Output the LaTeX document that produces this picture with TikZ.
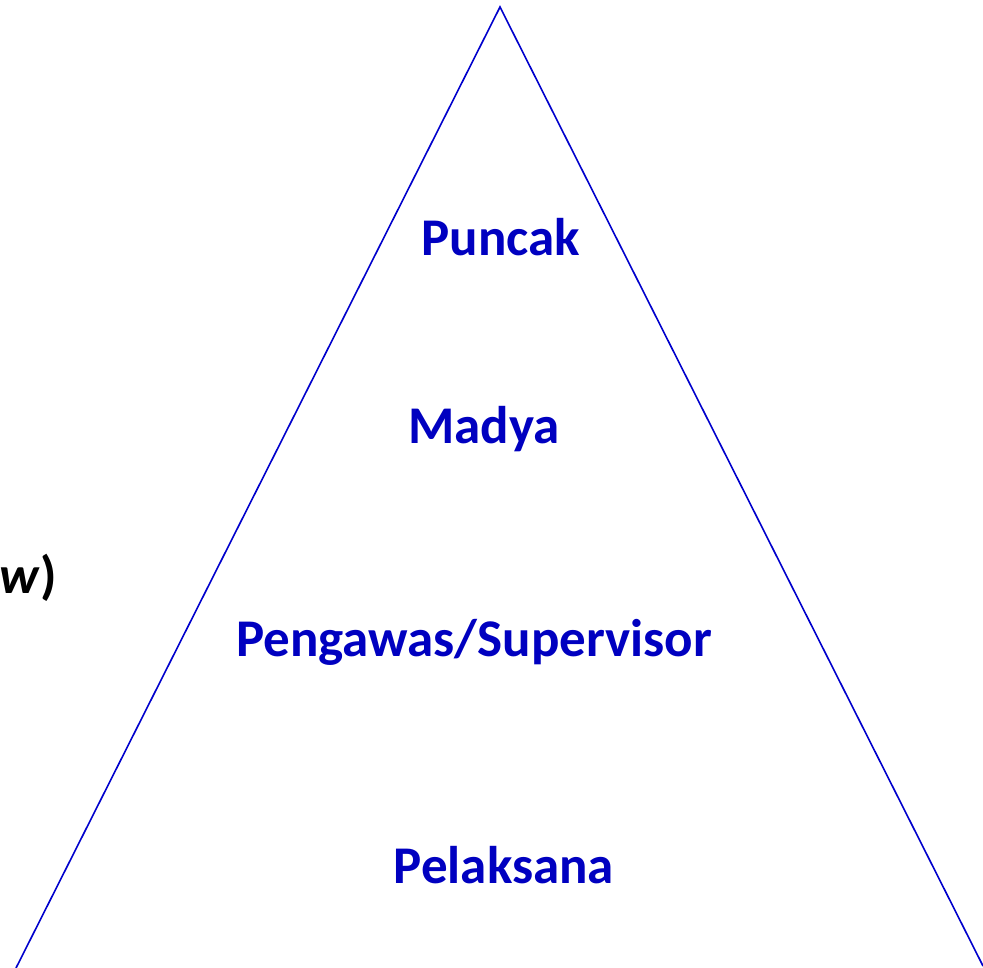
\documentclass[tikz,border=0pt]{standalone}
\usepackage{fontspec}
\setmainfont{Carlito}
\usetikzlibrary{positioning}

\begin{document}
\begin{tikzpicture}[
    x=0.5pt, y=-0.5pt,
    level/.style={font=\fontsize{26.5}{31}\selectfont\bfseries, text=levelblue, inner sep=0pt},
    side/.style={line width=0.8pt, draw=edgeblue}
]
\definecolor{levelblue}{HTML}{0000C0}
\definecolor{edgeblue}{HTML}{0000CC}
\useasboundingbox (0,0) rectangle (983,967);

% Sides of the pyramid
\coordinate (top) at (500,7);
\coordinate (bl) at (16,968);
\coordinate (br) at (983,966);
\draw[side] (bl) -- (top) -- (br);

% Levels
\node[level] (puncak) at (501,237) {Puncak};
\node[level] (madya) at (484,429) {Madya};
\node[level] (pengawas) at (474,642) {Pengawas/Supervisor};
\node[level] (pelaksana) at (504,865) {Pelaksana};

% Cut-off label at the left
\node[font=\fontsize{26.5}{31}\selectfont\bfseries, inner sep=0pt, anchor=west] (lbl) at (-1,578) {\textit{w})};

\end{tikzpicture}
\end{document}
